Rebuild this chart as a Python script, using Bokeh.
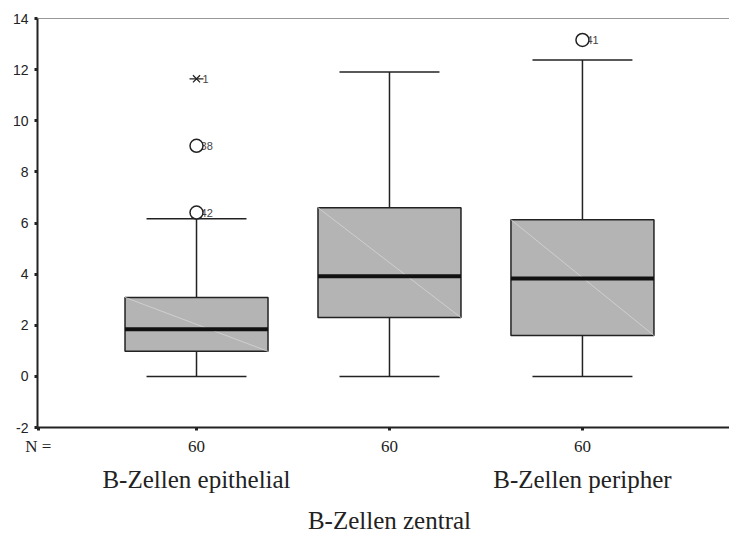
import numpy as np
from bokeh.plotting import figure
from bokeh.models import (Range1d, FixedTicker, LinearAxis, Span, ColumnDataSource)
from bokeh.core.properties import value
from bokeh.embed import file_html
from bokeh.resources import INLINE

# ---- data ----
categories = ["B-Zellen epithelial", "B-Zellen zentral", "B-Zellen peripher"]
positions = [1, 2, 3]
n_values = [60, 60, 60]
q1 = [0.98, 2.30, 1.60]
median = [1.84, 3.92, 3.83]
q3 = [3.09, 6.60, 6.13]
whisker_low = [0.0, 0.0, 0.0]
whisker_high = [6.17, 11.91, 12.38]

outlier_x = [1, 1, 3]
outlier_y = [6.41, 9.02, 13.16]
outlier_label = ["42", "38", "41"]

extreme_x = [1]
extreme_y = [11.64]
extreme_label = ["1"]

y_ticks = [-2, 0, 2, 4, 6, 8, 10, 12, 14]

# ---- styling ----
BOX_W = 0.741
CAP_W = 0.518
DARK = "#222222"
SERIF = "Liberation Serif"
SANS = "Liberation Sans"

p = figure(width=729, height=536, output_backend="svg", toolbar_location=None,
           x_range=Range1d(0.176, 3.762), y_range=Range1d(-2, 14),
           min_border_left=37, min_border_top=18, min_border_right=0,
           min_border_bottom=108, x_axis_location=None)
p.outline_line_color = None
p.xgrid.visible = False
p.ygrid.visible = False
p.background_fill_color = "white"
p.border_fill_color = "white"

# y axis
ya = p.yaxis[0]
ya.ticker = FixedTicker(ticks=y_ticks)
ya.major_label_overrides = {t: str(t) for t in y_ticks}
ya.axis_line_color = DARK
ya.axis_line_width = 2
ya.major_tick_line_color = DARK
ya.major_tick_line_width = 3
ya.major_tick_out = 3
ya.major_tick_in = 0
ya.minor_tick_line_color = None
ya.major_label_text_font = SANS
ya.major_label_text_font_size = "14px"
ya.major_label_text_color = DARK
ya.major_label_standoff = 6

# bottom axis 1: N values
pos = np.array(positions, dtype=float)
overrides = {0.18: "N ="}
for x, n in zip(positions, n_values):
    overrides[x] = str(n)
ax1 = LinearAxis(ticker=FixedTicker(ticks=[0.18] + positions),
                 major_label_overrides=overrides,
                 axis_line_color=DARK, axis_line_width=2,
                 major_tick_line_color=DARK, major_tick_line_width=3,
                 major_tick_out=3, major_tick_in=0, minor_tick_line_color=None,
                 major_label_text_font=SERIF, major_label_text_font_size="17px",
                 major_label_text_color=DARK, major_label_standoff=6)
p.add_layout(ax1, "below")

# bottom axis 2: categories 1 and 3 ; axis 3: category 2
ax2 = LinearAxis(ticker=FixedTicker(ticks=[positions[0], positions[2]]),
                 major_label_overrides={positions[0]: categories[0], positions[2]: categories[2]})
ax3 = LinearAxis(ticker=FixedTicker(ticks=[positions[1]]),
                 major_label_overrides={positions[1]: categories[1]})
for ax, so in ((ax2, 7), (ax3, 11)):
    ax.axis_line_color = None
    ax.major_tick_line_color = None
    ax.minor_tick_line_color = None
    ax.major_tick_out = 0
    ax.major_tick_in = 0
    ax.major_label_text_font = SERIF
    ax.major_label_text_font_size = "25px"
    ax.major_label_text_color = DARK
    ax.major_label_standoff = so
    p.add_layout(ax, "below")

# top border line
p.add_layout(Span(location=p.y_range.end, dimension="width",
                  line_color="#333333", line_width=1))

# whiskers
p.segment(pos, q3, pos, whisker_high, line_color=DARK, line_width=1.5)
p.segment(pos, q1, pos, whisker_low, line_color=DARK, line_width=1.5)
p.segment(pos - CAP_W / 2, whisker_high, pos + CAP_W / 2, whisker_high, line_color=DARK, line_width=1.5)
p.segment(pos - CAP_W / 2, whisker_low, pos + CAP_W / 2, whisker_low, line_color=DARK, line_width=1.5)

# boxes
p.vbar(x=pos, width=BOX_W, bottom=q1, top=q3, fill_color="#b4b4b4",
       line_color=DARK, line_width=1.5)
# faint diagonal rendering artefact
p.segment(pos - BOX_W / 2, q3, pos + BOX_W / 2, q1, line_color="#d6d6d6", line_width=0.8)
# medians
p.segment(pos - BOX_W / 2, median, pos + BOX_W / 2, median, line_color="#111111", line_width=4)

# outliers
osrc = ColumnDataSource(dict(x=outlier_x, y=outlier_y, t=outlier_label))
p.text(x="x", y="y", text="t", source=osrc, x_offset=4, text_baseline="middle",
       text_font=value(SANS), text_font_size="11px", text_color="#444444")
p.scatter(x="x", y="y", source=osrc, marker="circle", size=13,
          fill_color="white", line_color=DARK, line_width=1.5)

esrc = ColumnDataSource(dict(x=extreme_x, y=extreme_y, t=extreme_label))
p.text(x="x", y="y", text="t", source=esrc, x_offset=6, text_baseline="middle",
       text_font=value(SANS), text_font_size="11px", text_color="#444444")
p.scatter(x="x", y="y", source=esrc, marker="x", size=10, line_color=DARK, line_width=1.3)
p.scatter(x="x", y="y", source=esrc, marker="dash", size=14, line_color=DARK, line_width=1.3)

open("out.html", "w").write(file_html(p, INLINE))
